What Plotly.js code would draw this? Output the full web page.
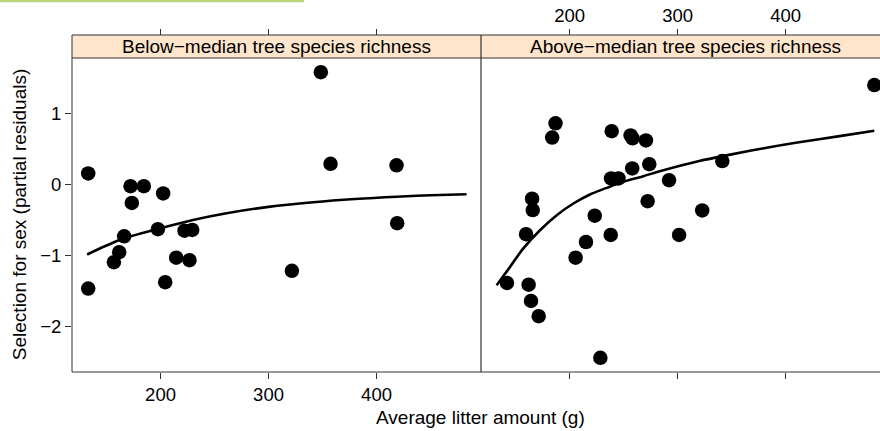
<!DOCTYPE html>
<html>
<head>
<meta charset="utf-8">
<script src="https://cdn.plot.ly/plotly-3.0.1.min.js"></script>
<style>html,body{margin:0;padding:0;background:#fff;}#chart{width:880px;height:431px;}</style>
</head>
<body>
<div id="chart"></div>
<script>
// ---- data ----
const panelTitles = ["Below\u2212median tree species richness", "Above\u2212median tree species richness"];
const xTitle = "Average litter amount (g)";
const yTitle = "Selection for sex (partial residuals)";
const xTickVals = [200, 300, 400];
const yTickVals = [-2, -1, 0, 1];

const leftX = [133, 172.2, 184.5, 173.4, 202.4, 197.5, 222.2, 229.3, 166.3, 348.4, 357.4, 418.5, 419.1, 161.7, 156.8, 133, 204.3, 214.5, 226.8, 321.6];
const leftY = [0.155, -0.024, -0.024, -0.26, -0.127, -0.63, -0.65, -0.64, -0.73, 1.58, 0.29, 0.27, -0.545, -0.953, -1.094, -1.465, -1.376, -1.03, -1.066, -1.216];

const rightX = [482.1, 187, 183.9, 239, 256.5, 258.3, 270.7, 273.8, 258, 238.4, 245.3, 292.1, 341.4, 272.3, 322.8, 223.3, 165.3, 165.9, 159.7, 215.2, 238.1, 301.4, 205.6, 142, 162.1, 164.3, 171.4, 228.5];
const rightY = [1.40, 0.86, 0.66, 0.75, 0.69, 0.65, 0.62, 0.286, 0.225, 0.085, 0.085, 0.06, 0.33, -0.235, -0.366, -0.44, -0.2, -0.36, -0.70, -0.81, -0.71, -0.71, -1.03, -1.386, -1.41, -1.64, -1.855, -2.44];

const leftCurveX = [132, 150, 167, 197.8, 230, 261.1, 300, 341.3, 380, 418.5, 450, 483.3];
const leftCurveY = [-0.986, -0.86, -0.755, -0.625, -0.5, -0.405, -0.315, -0.25, -0.205, -0.172, -0.152, -0.137];

const rightCurveX = [132.5, 144.9, 157.2, 172.6, 188.1, 203.5, 218.9, 234.4, 249.8, 268.3, 286.8, 320, 348.8, 380, 410.9, 450, 482.1];
const rightCurveY = [-1.418, -1.16, -0.90, -0.644, -0.432, -0.268, -0.141, -0.048, 0.037, 0.117, 0.2, 0.33, 0.42, 0.51, 0.59, 0.68, 0.755];

// ---- layout constants ----
const FONT = "Liberation Sans, Arial, Helvetica, sans-serif";
const XR_L = [118, 496.7];
const XR_R = [118, 487.4];
const YR = [-2.64, 1.78];
const SPLIT = 409 / 808;
const YTOP = 313.7 / 336.7;
const AX = '#333';

function pts(x, y, xa, ya) {
  return {x: x, y: y, xaxis: xa, yaxis: ya, type: 'scatter', mode: 'markers',
    marker: {color: '#000', size: 14.5}, hoverinfo: 'skip', showlegend: false};
}
function crv(x, y, xa, ya) {
  return {x: x, y: y, xaxis: xa, yaxis: ya, type: 'scatter', mode: 'lines',
    line: {color: '#000', width: 2.6, shape: 'spline', smoothing: 1}, hoverinfo: 'skip', showlegend: false};
}
function ghost(x, y, xa, ya) {
  return {x: x, y: y, xaxis: xa, yaxis: ya, type: 'scatter', mode: 'lines',
    line: {width: 0}, opacity: 0, hoverinfo: 'skip', showlegend: false};
}

const data = [
  crv(leftCurveX, leftCurveY, 'x', 'y'),
  pts(leftX, leftY, 'x', 'y'),
  crv(rightCurveX, rightCurveY, 'x2', 'y2'),
  pts(rightX, rightY, 'x2', 'y2'),
  ghost(leftCurveX, leftCurveY, 'x3', 'y'),
  ghost(rightCurveX, rightCurveY, 'x4', 'y2')
];

const tickFont = {family: FONT, size: 18.5, color: '#000'};
const baseX = {ticks: 'outside', ticklen: 6, tickcolor: AX, tickwidth: 1, tickvals: xTickVals,
  showgrid: false, zeroline: false, showline: false, tickfont: tickFont, fixedrange: true};

const layout = {
  width: 880, height: 431,
  margin: {l: 72, r: 0, t: 35, b: 59.3},
  paper_bgcolor: '#fff', plot_bgcolor: '#fff',
  showlegend: false,
  xaxis: Object.assign({}, baseX, {domain: [0, SPLIT], range: XR_L, anchor: 'y'}),
  xaxis2: Object.assign({}, baseX, {domain: [SPLIT, 1], range: XR_R, anchor: 'y2', showticklabels: false}),
  xaxis3: Object.assign({}, baseX, {overlaying: 'x', range: XR_L, side: 'top', anchor: 'free', position: 1, showticklabels: false}),
  xaxis4: Object.assign({}, baseX, {overlaying: 'x2', range: XR_R, side: 'top', anchor: 'free', position: 1, showticklabels: true}),
  yaxis: {domain: [0, YTOP], range: YR, anchor: 'x', ticks: 'outside', ticklen: 6, tickcolor: AX,
    tickvals: yTickVals, showgrid: false, zeroline: false, showline: false, tickfont: tickFont, fixedrange: true},
  yaxis2: {domain: [0, YTOP], range: YR, anchor: 'x2', ticks: '', showticklabels: false,
    showgrid: false, zeroline: false, showline: false, fixedrange: true},
  shapes: [
    // decorative green bar at the top edge
    {type: 'rect', xref: 'paper', yref: 'paper', x0: -72/808, x1: (304-72)/808, y0: 369.5/336.7, y1: 371.7/336.7,
      fillcolor: '#bcd77a', line: {width: 0}},
    // strips
    {type: 'rect', xref: 'paper', yref: 'paper', x0: 0, x1: 1.02, y0: YTOP, y1: 1,
      fillcolor: '#ffe5cc', line: {width: 0}, layer: 'below'},
    // borders
    {type: 'line', xref: 'paper', yref: 'paper', x0: 0, x1: 1.02, y0: 1, y1: 1, line: {color: AX, width: 1}},
    {type: 'line', xref: 'paper', yref: 'paper', x0: 0, x1: 1.02, y0: YTOP, y1: YTOP, line: {color: AX, width: 1}},
    {type: 'line', xref: 'paper', yref: 'paper', x0: 0, x1: 1.02, y0: 0, y1: 0, line: {color: AX, width: 1}},
    {type: 'line', xref: 'paper', yref: 'paper', x0: 0, x1: 0, y0: 0, y1: 1, line: {color: AX, width: 1}},
    {type: 'line', xref: 'paper', yref: 'paper', x0: SPLIT, x1: SPLIT, y0: 0, y1: 1, line: {color: AX, width: 1.2}}
  ],
  annotations: [
    {text: panelTitles[0], xref: 'paper', yref: 'paper', x: SPLIT/2, y: (YTOP+1)/2, xanchor: 'center', yanchor: 'middle',
      showarrow: false, font: {family: FONT, size: 19, color: '#000'}},
    {text: panelTitles[1], xref: 'paper', yref: 'paper', x: (685-72)/808, y: (YTOP+1)/2, xanchor: 'center', yanchor: 'middle',
      showarrow: false, font: {family: FONT, size: 19, color: '#000'}},
    {text: xTitle, xref: 'paper', yref: 'paper', x: (480-72)/808, y: (371.7-417)/336.7, xanchor: 'center', yanchor: 'middle',
      showarrow: false, font: {family: FONT, size: 19, color: '#000'}},
    {text: yTitle, xref: 'paper', yref: 'paper', x: (19-72)/808, y: (371.7-215)/336.7, xanchor: 'center', yanchor: 'middle',
      textangle: -90, showarrow: false, font: {family: FONT, size: 19, color: '#000'}}
  ]
};

Plotly.newPlot('chart', data, layout, {staticPlot: true, displayModeBar: false});
</script>
</body>
</html>
